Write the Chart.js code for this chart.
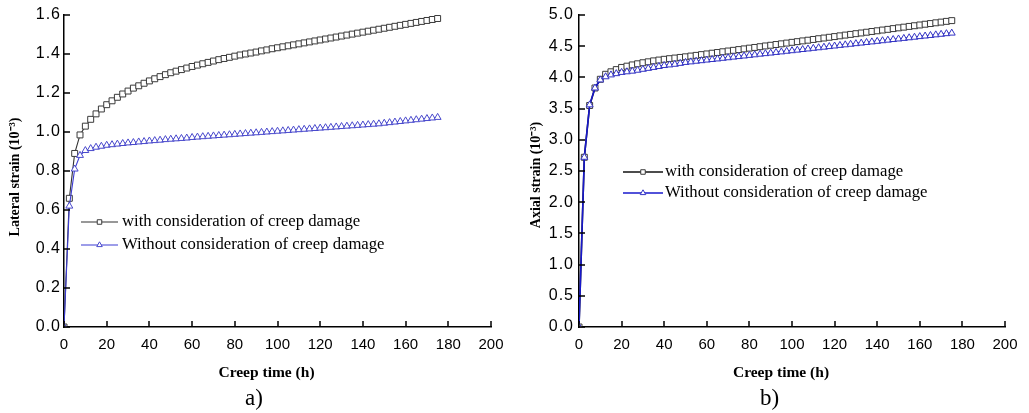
<!DOCTYPE html>
<html>
<head>
<meta charset="utf-8">
<title>Creep strain</title>
<script src="https://cdn.jsdelivr.net/npm/chart.js"></script>
<style>
  html, body { margin: 0; padding: 0; background: #fff; }
  body { width: 1029px; height: 413px; position: relative; overflow: hidden; }
  .panel { position: absolute; top: 0; height: 413px; }
  #panelA { left: 0; width: 514px; }
  #panelB { left: 514px; width: 515px; }
  .tag { position: absolute; top: 386px; font: 23px "Liberation Serif", serif; line-height: 23px; color: #000; }
</style>
</head>
<body>
<div class="panel" id="panelA"><canvas id="lateralChart" width="514" height="413"></canvas></div>
<div class="panel" id="panelB"><canvas id="axialChart" width="515" height="413"></canvas></div>
<div class="tag" style="left:245px">a)</div>
<div class="tag" style="left:760px">b)</div>
<script>
// creep time (h), same for all four curves
const creepTime = [0, 2.5, 5, 7.5, 10, 12.5, 15, 17.5, 20, 22.5, 25, 27.5, 30, 32.5, 35, 37.5, 40, 42.5, 45, 47.5,
  50, 52.5, 55, 57.5, 60, 62.5, 65, 67.5, 70, 72.5, 75, 77.5, 80, 82.5, 85, 87.5, 90, 92.5, 95, 97.5,
  100, 102.5, 105, 107.5, 110, 112.5, 115, 117.5, 120, 122.5, 125, 127.5, 130, 132.5, 135, 137.5, 140, 142.5, 145, 147.5,
  150, 152.5, 155, 157.5, 160, 162.5, 165, 167.5, 170, 172.5, 175];

// a) lateral strain (10^-3)
const lateralDamage = [0, 0.66, 0.89, 0.985, 1.03, 1.065, 1.093, 1.118, 1.14, 1.16,
  1.178, 1.195, 1.21, 1.225, 1.237, 1.25, 1.262, 1.273, 1.284, 1.294,
  1.304, 1.312, 1.32, 1.328, 1.336, 1.343, 1.35, 1.357, 1.364, 1.371,
  1.377, 1.383, 1.389, 1.395, 1.40, 1.405, 1.41, 1.416, 1.421, 1.427,
  1.432, 1.437, 1.442, 1.447, 1.452, 1.457, 1.462, 1.467, 1.472, 1.477,
  1.482, 1.487, 1.492, 1.497, 1.502, 1.507, 1.512, 1.517, 1.522, 1.527,
  1.532, 1.537, 1.542, 1.547, 1.552, 1.557, 1.562, 1.567, 1.572, 1.577,
  1.582];
const lateralNoDamage = [0, 0.62, 0.81, 0.88, 0.905, 0.915, 0.922, 0.927, 0.932, 0.935,
  0.938, 0.941, 0.944, 0.946, 0.949, 0.951, 0.954, 0.956, 0.958, 0.961,
  0.963, 0.965, 0.967, 0.969, 0.972, 0.974, 0.976, 0.978, 0.98, 0.982,
  0.984, 0.986, 0.988, 0.99, 0.992, 0.994, 0.996, 0.998, 1.0, 1.002,
  1.004, 1.006, 1.008, 1.01, 1.012, 1.014, 1.016, 1.018, 1.02, 1.022,
  1.024, 1.026, 1.028, 1.03, 1.032, 1.034, 1.036, 1.038, 1.04, 1.042,
  1.045, 1.048, 1.051, 1.054, 1.057, 1.06, 1.063, 1.066, 1.069, 1.072,
  1.075];

// b) axial strain (10^-3)
const axialDamage = [0, 2.72, 3.55, 3.83, 3.97, 4.05, 4.09, 4.125, 4.16, 4.18,
  4.2, 4.218, 4.235, 4.25, 4.265, 4.278, 4.29, 4.3, 4.31, 4.32,
  4.33, 4.342, 4.353, 4.365, 4.376, 4.388, 4.399, 4.411, 4.423, 4.434,
  4.446, 4.457, 4.469, 4.48, 4.492, 4.504, 4.515, 4.527, 4.538, 4.55,
  4.562, 4.573, 4.585, 4.596, 4.608, 4.62, 4.631, 4.643, 4.654, 4.666,
  4.678, 4.689, 4.701, 4.712, 4.724, 4.736, 4.747, 4.759, 4.77, 4.782,
  4.794, 4.805, 4.817, 4.828, 4.84, 4.852, 4.863, 4.875, 4.886, 4.898,
  4.91];
const axialNoDamage = [0, 2.72, 3.56, 3.83, 3.96, 4.01, 4.04, 4.06, 4.08, 4.09,
  4.1, 4.115, 4.13, 4.145, 4.16, 4.175, 4.19, 4.2, 4.21, 4.225,
  4.24, 4.249, 4.259, 4.268, 4.278, 4.287, 4.296, 4.306, 4.315, 4.325,
  4.334, 4.343, 4.353, 4.362, 4.372, 4.381, 4.39, 4.4, 4.409, 4.419,
  4.428, 4.437, 4.447, 4.456, 4.466, 4.475, 4.484, 4.494, 4.503, 4.513,
  4.522, 4.531, 4.541, 4.55, 4.56, 4.569, 4.578, 4.588, 4.597, 4.607,
  4.616, 4.625, 4.635, 4.644, 4.654, 4.663, 4.672, 4.682, 4.691, 4.701,
  4.71];

// tick values
const timeTicks = [0, 20, 40, 60, 80, 100, 120, 140, 160, 180, 200];
const lateralTicks = [0, 0.2, 0.4, 0.6, 0.8, 1.0, 1.2, 1.4, 1.6];
const axialTicks = [0, 0.5, 1.0, 1.5, 2.0, 2.5, 3.0, 3.5, 4.0, 4.5, 5.0];

const seriesNames = ['with consideration of creep damage', 'Without consideration of creep damage'];

const tickFont = { family: '"Liberation Sans", Arial, sans-serif', size: 15 };

function drawMarker(ctx, style, cx, cy, r) {
  ctx.beginPath();
  if (style === 'rect') {
    const s = r * Math.SQRT1_2;
    ctx.rect(cx - s, cy - s, 2 * s, 2 * s);
  } else {
    let rad = 0;
    ctx.moveTo(cx + Math.sin(rad) * r, cy - Math.cos(rad) * r);
    rad += 2 * Math.PI / 3;
    ctx.lineTo(cx + Math.sin(rad) * r, cy - Math.cos(rad) * r);
    rad += 2 * Math.PI / 3;
    ctx.lineTo(cx + Math.sin(rad) * r, cy - Math.cos(rad) * r);
    ctx.closePath();
  }
  ctx.fill();
  ctx.stroke();
}

// inward ticks, y labels, axis titles and the in-plot legend
const panelDecor = {
  id: 'panelDecor',
  afterDraw(chart, args, opts) {
    const { ctx, chartArea: area, scales: { x, y } } = chart;
    ctx.save();
    ctx.strokeStyle = '#000';
    ctx.lineWidth = 1.5;
    ctx.beginPath();
    x.ticks.forEach(t => {
      const px = Math.round(x.getPixelForValue(t.value));
      ctx.moveTo(px, area.bottom);
      ctx.lineTo(px, area.bottom - 6);
    });
    y.ticks.forEach(t => {
      const py = Math.round(y.getPixelForValue(t.value));
      ctx.moveTo(area.left, py);
      ctx.lineTo(area.left + 6, py);
    });
    ctx.stroke();

    // y tick labels are printed a little wider in the original
    ctx.fillStyle = '#000';
    ctx.font = '16px "Liberation Sans", Arial, sans-serif';
    ctx.textAlign = 'right';
    ctx.textBaseline = 'middle';
    ctx.letterSpacing = '1px';
    y.ticks.forEach(t => {
      ctx.fillText(t.label, area.left - opts.yLabelGap + 1, y.getPixelForValue(t.value));
    });
    ctx.letterSpacing = '0px';

    ctx.textAlign = 'center';
    ctx.font = 'bold 15.5px "Liberation Serif", serif';
    ctx.fillText(opts.xTitle, (area.left + area.right) / 2 + opts.xTitleShift, opts.xTitleY);

    ctx.save();
    ctx.translate(opts.yTitleX, opts.yTitleY);
    ctx.rotate(-Math.PI / 2);
    ctx.font = 'bold 14px "Liberation Serif", serif';
    ctx.fillText(opts.yTitle, 0, 0);
    ctx.restore();

    const lg = opts.legend;
    chart.data.datasets.forEach((ds, i) => {
      const ly = lg.rows[i];
      ctx.strokeStyle = ds.borderColor;
      ctx.lineWidth = ds.borderWidth;
      ctx.beginPath();
      ctx.moveTo(lg.x0, ly);
      ctx.lineTo(lg.x1, ly);
      ctx.stroke();
      ctx.fillStyle = '#fff';
      ctx.strokeStyle = ds.pointBorderColor;
      ctx.lineWidth = 1;
      drawMarker(ctx, ds.pointStyle, (lg.x0 + lg.x1) / 2, ly, 3.2);
      ctx.fillStyle = '#000';
      ctx.textAlign = 'left';
      ctx.font = '16.7px "Liberation Serif", serif';
      ctx.fillText(ds.label, lg.textX, ly);
    });
    ctx.restore();
  }
};

function buildChart(canvasId, cfg) {
  const ctx = document.getElementById(canvasId).getContext('2d');
  return new Chart(ctx, {
    type: 'line',
    data: {
      datasets: [
        {
          label: seriesNames[0],
          data: creepTime.map((t, i) => ({ x: t, y: cfg.damage[i] })),
          borderColor: cfg.blackLine,
          borderWidth: cfg.lineWidth,
          pointStyle: 'rect',
          pointRadius: 4.2,
          pointBorderWidth: 1,
          pointBorderColor: '#3a3a3a',
          pointBackgroundColor: '#fff',
          tension: 0,
          order: 2
        },
        {
          label: seriesNames[1],
          data: creepTime.map((t, i) => ({ x: t, y: cfg.noDamage[i] })),
          borderColor: cfg.blueLine,
          borderWidth: cfg.lineWidth,
          pointStyle: 'triangle',
          pointRadius: 4,
          pointBorderWidth: 1,
          pointBorderColor: cfg.blueMarker,
          pointBackgroundColor: '#fff',
          tension: 0,
          order: 1
        }
      ]
    },
    options: {
      responsive: false,
      animation: false,
      devicePixelRatio: 1,
      events: [],
      layout: { padding: { left: 0, top: 15, right: cfg.padRight, bottom: 0 } },
      plugins: {
        legend: { display: false },
        tooltip: { enabled: false },
        panelDecor: cfg.decor
      },
      scales: {
        x: {
          type: 'linear',
          min: 0,
          max: 200,
          afterBuildTicks: s => { s.ticks = timeTicks.map(v => ({ value: v })); },
          afterFit: s => { s.height = 86; },
          grid: { display: false },
          border: { display: true, color: '#000', width: 1.5 },
          ticks: { color: '#000', font: tickFont, padding: 1, maxRotation: 0, autoSkip: false }
        },
        y: {
          type: 'linear',
          min: 0,
          max: cfg.yMax,
          afterBuildTicks: s => { s.ticks = cfg.yTicks.map(v => ({ value: v })); },
          afterFit: s => { s.width = cfg.yWidth; },
          grid: { display: false },
          border: { display: true, color: '#000', width: 1.5 },
          ticks: { display: false, autoSkip: false, callback: v => v.toFixed(1) }
        }
      }
    },
    plugins: [panelDecor]
  });
}

buildChart('lateralChart', {
  damage: lateralDamage,
  noDamage: lateralNoDamage,
  yMax: 1.6,
  yTicks: lateralTicks,
  yWidth: 64,
  padRight: 23,
  lineWidth: 1.1,
  blackLine: '#333',
  blueLine: '#3c3cd4',
  blueMarker: '#4848cc',
  decor: {
    yLabelGap: 4,
    xTitle: 'Creep time (h)', xTitleShift: -11, xTitleY: 373,
    yTitle: 'Lateral strain (10\u207B\u00B3)', yTitleX: 15, yTitleY: 177,
    legend: { x0: 81, x1: 118, textX: 122, rows: [222, 245] }
  }
});

buildChart('axialChart', {
  damage: axialDamage,
  noDamage: axialNoDamage,
  yMax: 5.0,
  yTicks: axialTicks,
  yWidth: 65,
  padRight: 24,
  lineWidth: 1.6,
  blackLine: '#111',
  blueLine: '#1818cc',
  blueMarker: '#3333c4',
  decor: {
    yLabelGap: 6,
    xTitle: 'Creep time (h)', xTitleShift: -11, xTitleY: 373,
    yTitle: 'Axial strain (10\u207B\u00B3)', yTitleX: 22, yTitleY: 175,
    legend: { x0: 109, x1: 149, textX: 151, rows: [172, 193] }
  }
});
</script>
</body>
</html>
